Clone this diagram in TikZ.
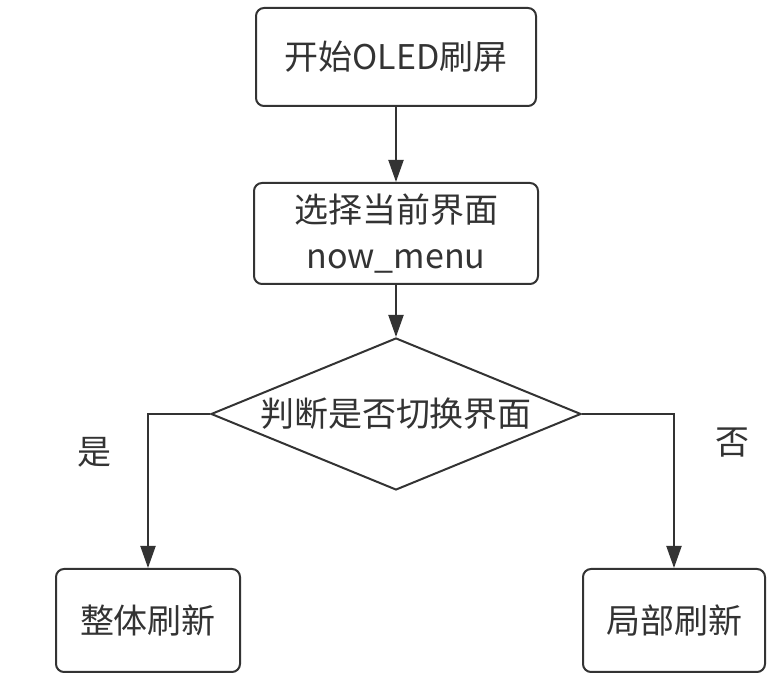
\documentclass[tikz,border=0pt]{standalone}
\usepackage{fontspec}
\setmainfont{Noto Sans CJK SC}
\usepackage{tikz}
\usetikzlibrary{shapes.geometric,arrows.meta}
\definecolor{linegray}{HTML}{333333}

\begin{document}
\begin{tikzpicture}[auto, x=1pt, y=1pt,
    block/.style={rectangle, draw=linegray, line width=1pt, text=linegray, align=center, rounded corners=4pt, inner sep=0pt, font=\fontsize{17pt}{23pt}\selectfont},
    decision/.style={diamond, draw=linegray, line width=1pt, text=linegray, aspect=2.42, inner sep=0pt, minimum width=185pt, minimum height=76pt, font=\fontsize{17pt}{23pt}\selectfont},
    line/.style={draw=linegray, line width=1pt, -{Triangle[length=11pt,width=7.5pt]}},
    tag/.style={text=linegray, font=\fontsize{17pt}{23pt}\selectfont}]

    \useasboundingbox (0,0) rectangle (389,-344);

    % Nodes
    \node [block, minimum width=140pt, minimum height=49pt] (start) at (198,-28.5) {开始OLED刷屏};
    \node [block, below of=start, node distance=88.25pt, minimum width=142pt, minimum height=50.5pt] (menu) {选择当前界面\\now\_menu};
    \node [decision, below of=menu, node distance=90.25pt] (switch) {判断是否切换界面};
    \node [block, below of=switch, node distance=103.25pt, xshift=-124pt, minimum width=92pt, minimum height=51.5pt] (full) {整体刷新};
    \node [block, below of=switch, node distance=103.25pt, xshift=139pt, minimum width=91pt, minimum height=51.5pt] (part) {局部刷新};

    % Paths
    \path [line] (start) -- (menu);
    \path [line] (menu) -- (switch);
    \path [line] (switch.west) -| node [tag, pos=0.625, left=14.5pt] {是} (full);
    \path [line] (switch.east) -| node [tag, pos=0.594, right=17pt] {否} (part);

\end{tikzpicture}
\end{document}
